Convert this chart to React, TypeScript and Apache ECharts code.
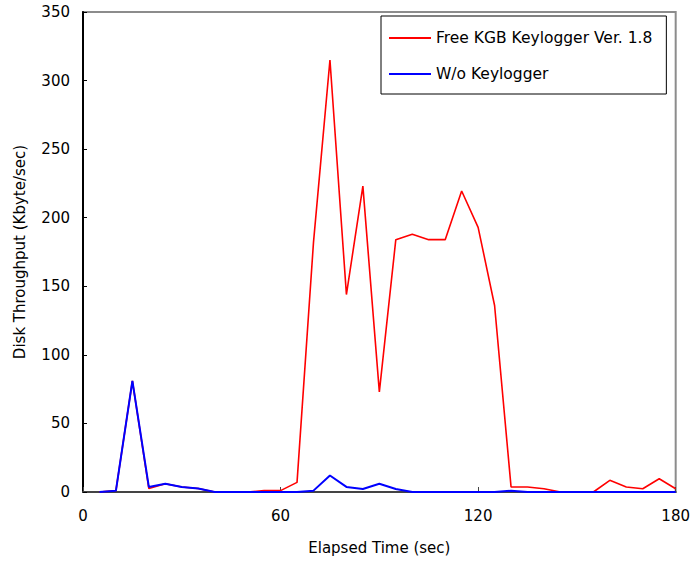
import React, { useEffect, useRef } from "react";
import * as echarts from "echarts";

const times = [5, 10, 15, 20, 25, 30, 35, 40, 45, 50, 55, 60, 65, 70, 75, 80, 85, 90, 95, 100, 105, 110, 115, 120, 125, 130, 135, 140, 145, 150, 155, 160, 165, 170, 175, 180];
const withKeylogger = [0, 1, 81, 2.5, 6, 3.7, 2.5, 0, 0, 0, 1, 1, 7, 182, 315, 144, 223, 73, 184, 188, 184, 184, 219.5, 193, 136, 3.7, 3.7, 2.4, 0, 0, 0, 8.5, 3.7, 2.4, 9.7, 2.4];
const withoutKeylogger = [0, 1, 81, 3.7, 6, 3.7, 2.5, 0, 0, 0, 0, 0, 0, 1, 12, 3.7, 2.2, 6, 2.2, 0, 0, 0, 0, 0, 0, 1, 0, 0, 0, 0, 0, 0, 0, 0, 0, 0];
const seriesNames = ["Free KGB Keylogger Ver. 1.8", "W/o Keylogger"];
const xTitle = "Elapsed Time (sec)";
const yTitle = "Disk Throughput (Kbyte/sec)";

const FONT = "DejaVu Sans";

export default function App() {
  const ref = useRef<HTMLDivElement>(null);
  useEffect(() => {
    document.body.style.margin = "0";
    if (!ref.current) return;
    const chart = echarts.init(ref.current, undefined, { renderer: "svg" });
    chart.setOption({
      animation: false,
      backgroundColor: "#ffffff",
      textStyle: { fontFamily: FONT },
      grid: {
        left: 83,
        right: 16,
        top: 12,
        bottom: 69,
        show: true,
        borderColor: "#8c8c8c",
        borderWidth: 2,
      },
      legend: {
        orient: "vertical",
        left: 381,
        top: 16,
        padding: [14, 14, 12, 8],
        itemGap: 20,
        itemWidth: 42,
        itemHeight: 2,
        icon: "rect",
        borderColor: "#000",
        borderWidth: 1,
        backgroundColor: "#fff",
        textStyle: { fontFamily: FONT, fontSize: 15.5, color: "#000" },
        data: seriesNames,
      },
      xAxis: {
        type: "value",
        min: 0,
        max: 180,
        interval: 60,
        name: xTitle,
        nameLocation: "middle",
        nameGap: 48,
        nameTextStyle: { fontFamily: FONT, fontSize: 15, color: "#000" },
        axisLine: { show: true, lineStyle: { color: "#444", width: 2 } },
        axisTick: { show: true, inside: true, length: 5, lineStyle: { color: "#444" } },
        axisLabel: { fontFamily: FONT, fontSize: 15, color: "#000", margin: 16 },
        splitLine: { show: false },
      },
      yAxis: {
        type: "value",
        min: 0,
        max: 350,
        interval: 50,
        name: yTitle,
        nameLocation: "middle",
        nameRotate: 90,
        nameGap: 56,
        nameTextStyle: { fontFamily: FONT, fontSize: 15, color: "#000" },
        axisLine: { show: true, lineStyle: { color: "#000", width: 2 } },
        axisTick: { show: true, inside: true, length: 4, lineStyle: { color: "#000" } },
        axisLabel: { fontFamily: FONT, fontSize: 15, color: "#000", margin: 13 },
        splitLine: { show: false },
      },
      series: [
        {
          name: seriesNames[0],
          type: "line",
          symbol: "none",
          data: times.map((t, i) => [t, withKeylogger[i]]),
          lineStyle: { color: "#ff0000", width: 1.6 },
          itemStyle: { color: "#ff0000" },
        },
        {
          name: seriesNames[1],
          type: "line",
          symbol: "none",
          data: times.map((t, i) => [t, withoutKeylogger[i]]),
          lineStyle: { color: "#0000ff", width: 2 },
          itemStyle: { color: "#0000ff" },
        },
      ],
    });
    return () => chart.dispose();
  }, []);
  return <div ref={ref} style={{ width: 693, height: 561 }} />;
}
